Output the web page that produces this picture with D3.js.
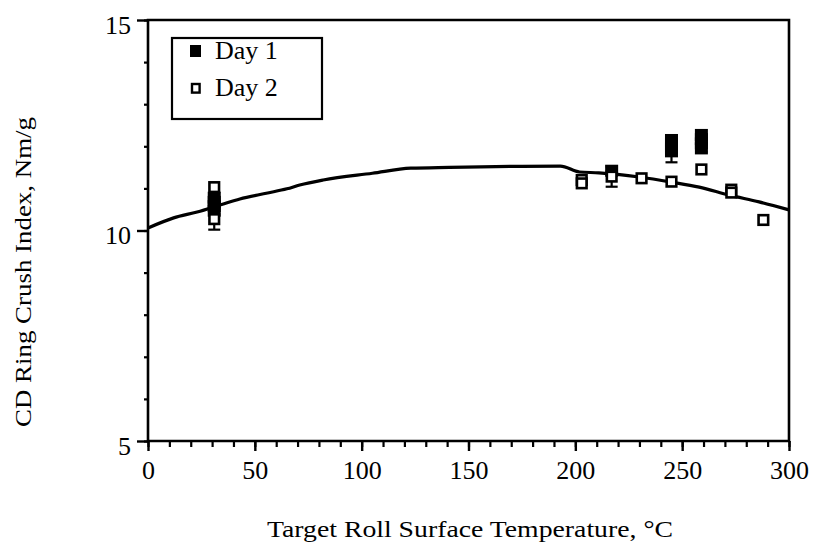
<!DOCTYPE html>
<html>
<head>
<meta charset="utf-8">
<script src="https://cdn.jsdelivr.net/npm/d3@7"></script>
<style>
  html, body { margin: 0; padding: 0; background: #fff; }
  svg { display: block; }
  text { font-family: "Liberation Serif", "Times New Roman", serif; fill: #000; }
</style>
</head>
<body>
<svg id="chart" width="816" height="548"></svg>
<script>
// ---- data ----
const xTickLabels = [0, 50, 100, 150, 200, 250, 300];
const yTickLabels = [5, 10, 15];

const curveTemp = [0, 12, 23, 34, 43, 56, 65, 71, 82, 105, 123, 141, 193, 202, 211, 230, 245, 258, 272, 286, 300];
const curveValue = [10.06, 10.30, 10.44, 10.61, 10.75, 10.89, 10.99, 11.08, 11.20, 11.36, 11.48, 11.50, 11.53, 11.39, 11.37, 11.27, 11.15, 11.03, 10.84, 10.68, 10.49];

const day1Temp = [31, 31, 31, 31, 217, 245, 245, 245, 245, 259, 259, 259, 259];
const day1Value = [10.78, 10.68, 10.58, 10.47, 11.42, 12.15, 12.05, 11.95, 11.88, 12.27, 12.17, 12.07, 11.95];
const day1Err = [0, 0, 0, 0, 0, 0, 0, 0, 0.26, 0, 0, 0, 0.08];

const day2Temp = [31, 31, 203, 203, 217, 231, 245, 259, 273, 273, 288];
const day2Value = [11.03, 10.27, 11.20, 11.12, 11.28, 11.24, 11.16, 11.45, 10.97, 10.90, 10.25];
const day2Err = [0, 0.25, 0, 0, 0.24, 0, 0, 0, 0, 0, 0];

const legendLabels = ["Day 1", "Day 2"];

// ---- layout ----
const svg = d3.select("#chart");
const mLeft = 148, mRight = 789, mTop = 20, mBottom = 441;
const x = d3.scaleLinear().domain([0, 300]).range([mLeft, mRight]);
const y = d3.scaleLinear().domain([5, 15]).range([mBottom, mTop]);

// x axis
const xAxisG = svg.append("g").attr("transform", `translate(0,${mBottom})`);
xAxisG.call(d3.axisBottom(x).tickValues(d3.range(0, 301, 10)).tickSize(6).tickFormat(""))
  .call(g => g.select(".domain").remove())
  .call(g => g.selectAll(".tick line").attr("stroke", "#000").attr("stroke-width", 2.2));
xAxisG.append("g").call(d3.axisBottom(x).tickValues(xTickLabels).tickSize(10).tickPadding(10).tickFormat(d3.format("d")))
  .call(g => g.select(".domain").remove())
  .call(g => g.selectAll(".tick line").attr("stroke", "#000").attr("stroke-width", 2.4))
  .call(g => g.selectAll(".tick text").attr("font-size", 26).attr("font-family", "Liberation Serif").attr("fill", "#000"));

// y axis
const yAxisG = svg.append("g").attr("transform", `translate(${mLeft},0)`);
yAxisG.call(d3.axisLeft(y).tickValues(d3.range(5, 16, 1)).tickSize(4).tickFormat(""))
  .call(g => g.select(".domain").remove())
  .call(g => g.selectAll(".tick line").attr("stroke", "#000").attr("stroke-width", 2.2));
yAxisG.append("g").call(d3.axisLeft(y).tickValues(yTickLabels).tickSize(11).tickPadding(6).tickFormat(d3.format("d")))
  .call(g => g.select(".domain").remove())
  .call(g => g.selectAll(".tick line").attr("stroke", "#000").attr("stroke-width", 2.4))
  .call(g => g.selectAll(".tick text").attr("font-size", 26).attr("dy", "0.5em").attr("font-family", "Liberation Serif").attr("fill", "#000"));

// frame
svg.append("path")
  .attr("d", `M${mLeft},${mBottom}V${mTop}H${mRight}V${mBottom}H${mLeft}Z`)
  .attr("fill", "none").attr("stroke", "#000").attr("stroke-width", 2.6);

// curve
const curvePts = curveTemp.map((t, i) => [t, curveValue[i]]);
svg.append("path")
  .datum(curvePts)
  .attr("fill", "none").attr("stroke", "#000").attr("stroke-width", 3.2)
  .attr("stroke-linejoin", "round")
  .attr("d", d3.line().x(d => x(d[0])).y(d => y(d[1])).curve(d3.curveMonotoneX));

// error bars
function errorBars(temps, vals, errs) {
  const data = temps.map((t, i) => ({ t, v: vals[i], e: errs[i] })).filter(d => d.e > 0);
  const g = svg.append("g").attr("stroke", "#000").attr("stroke-width", 2.2);
  data.forEach(d => {
    g.append("line").attr("x1", x(d.t)).attr("x2", x(d.t)).attr("y1", y(d.v - d.e)).attr("y2", y(d.v + d.e));
    g.append("line").attr("x1", x(d.t) - 6).attr("x2", x(d.t) + 6).attr("y1", y(d.v - d.e)).attr("y2", y(d.v - d.e));
    g.append("line").attr("x1", x(d.t) - 6).attr("x2", x(d.t) + 6).attr("y1", y(d.v + d.e)).attr("y2", y(d.v + d.e));
  });
}
errorBars(day1Temp, day1Value, day1Err);
errorBars(day2Temp, day2Value, day2Err);

// Day 1 filled squares
const fw = 13, fh = 12;
svg.append("g").selectAll("rect")
  .data(day1Temp.map((t, i) => ({ t, v: day1Value[i] })))
  .join("rect")
  .attr("x", d => x(d.t) - fw / 2).attr("y", d => y(d.v) - fh / 2)
  .attr("width", fw).attr("height", fh)
  .attr("fill", "#000");

// Day 2 open squares
const ow = 9.6, sw = 2.6;
svg.append("g").selectAll("rect")
  .data(day2Temp.map((t, i) => ({ t, v: day2Value[i] })))
  .join("rect")
  .attr("x", d => x(d.t) - ow / 2).attr("y", d => y(d.v) - ow / 2)
  .attr("width", ow).attr("height", ow)
  .attr("fill", "#fff").attr("stroke", "#000").attr("stroke-width", sw);

// legend
const lg = svg.append("g");
lg.append("rect").attr("x", 172).attr("y", 38).attr("width", 150).attr("height", 81)
  .attr("fill", "#fff").attr("stroke", "#000").attr("stroke-width", 2.2);
lg.append("rect").attr("x", 190).attr("y", 45).attr("width", 11).attr("height", 12).attr("fill", "#000");
lg.append("rect").attr("x", 192).attr("y", 84).attr("width", 7.6).attr("height", 8.6)
  .attr("fill", "#fff").attr("stroke", "#000").attr("stroke-width", 2.4);
lg.selectAll("text.leg").data(legendLabels).join("text").attr("class", "leg")
  .attr("x", 215).attr("y", (d, i) => 59 + i * 37)
  .attr("font-size", 26).text(d => d);

// axis titles
svg.append("text")
  .attr("x", 470).attr("y", 537).attr("text-anchor", "middle").attr("font-size", 23)
  .attr("textLength", 406).attr("lengthAdjust", "spacingAndGlyphs")
  .text("Target Roll Surface Temperature, °C");
svg.append("text")
  .attr("transform", "translate(31,272) rotate(-90)")
  .attr("text-anchor", "middle").attr("font-size", 23)
  .attr("textLength", 310).attr("lengthAdjust", "spacingAndGlyphs")
  .text("CD Ring Crush Index, Nm/g");
</script>
</body>
</html>
